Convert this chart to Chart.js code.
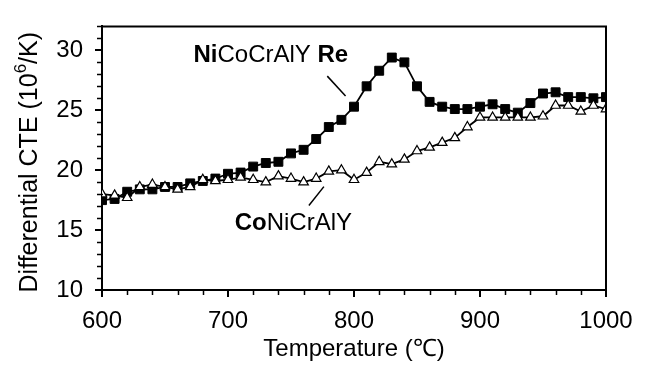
<!DOCTYPE html>
<html>
<head>
<meta charset="utf-8">
<script src="https://cdn.jsdelivr.net/npm/chart.js@4"></script>
<style>
  html, body { margin: 0; padding: 0; background: #fff; }
  #wrap { width: 646px; height: 365px; }
</style>
</head>
<body>
<div id="wrap"><canvas id="cteChart"></canvas></div>
<script>
// Differential CTE vs temperature — two bond coat alloys

const temperatures = [600, 610, 620, 630, 640, 650, 660, 670, 680, 690,
  700, 710, 720, 730, 740, 750, 760, 770, 780, 790,
  800, 810, 820, 830, 840, 850, 860, 870, 880, 890,
  900, 910, 920, 930, 940, 950, 960, 970, 980, 990, 1000];

const niCoCrAlYRe = [17.5, 17.6, 18.2, 18.4, 18.4, 18.6, 18.6, 18.9, 19.1, 19.3,
  19.7, 19.8, 20.3, 20.6, 20.7, 21.4, 21.7, 22.6, 23.6, 24.2,
  25.3, 27.0, 28.3, 29.4, 29.0, 27.0, 25.7, 25.3, 25.1, 25.1,
  25.3, 25.5, 25.1, 24.8, 25.6, 26.4, 26.5, 26.1, 26.1, 26.0, 26.1];

const coNiCrAlY = [18.0, 17.9, 17.7, 18.6, 18.8, 18.6, 18.4, 18.6, 19.2, 19.1,
  19.2, 19.4, 19.2, 19.0, 19.5, 19.3, 19.0, 19.3, 19.9, 20.0,
  19.2, 19.8, 20.7, 20.5, 20.9, 21.6, 21.9, 22.3, 22.7, 23.6,
  24.4, 24.4, 24.4, 24.4, 24.4, 24.5, 25.4, 25.4, 24.9, 25.4, 25.1];

const xTicks = [600, 700, 800, 900, 1000];
const yTicks = [10, 15, 20, 25, 30];

const FONT = '"Liberation Sans", Arial, Helvetica, sans-serif';
const FONT_SIZE = 24;

document.addEventListener('DOMContentLoaded', () => {
  initCteChart();
});

function toPoints(values) {
  return temperatures.map((t, i) => ({ x: t, y: values[i] }));
}

/**
 * Minor ticks + top/right frame
 */
const framePlugin = {
  id: 'frame',
  afterDraw(chart) {
    const { ctx, chartArea, scales } = chart;
    ctx.save();
    ctx.strokeStyle = '#000';
    ctx.lineWidth = 2;
    ctx.beginPath();
    ctx.moveTo(chartArea.left, chartArea.top);
    ctx.lineTo(chartArea.right, chartArea.top);
    ctx.lineTo(chartArea.right, chartArea.bottom);
    ctx.stroke();

    ctx.lineWidth = 1.5;
    ctx.beginPath();
    for (let v = 11; v <= 32; v++) {
      if (v % 5 === 0) continue;
      const y = Math.round(scales.y.getPixelForValue(v)) + 0.5;
      ctx.moveTo(chartArea.left - 5, y);
      ctx.lineTo(chartArea.left + 1, y);
    }
    for (let t = 620; t < 1000; t += 20) {
      if (t % 100 === 0) continue;
      const x = Math.round(scales.x.getPixelForValue(t)) + 0.5;
      ctx.moveTo(x, chartArea.bottom);
      ctx.lineTo(x, chartArea.bottom + 5);
    }
    ctx.stroke();

    // y axis title with a proper superscript
    const parts = [['Differential CTE (10', 25, 0], ['6', 17, -9], ['/K)', 25, 0]];
    ctx.translate(30, (chartArea.top + chartArea.bottom) / 2 + 4);
    ctx.rotate(-Math.PI / 2);
    ctx.fillStyle = '#000';
    ctx.textBaseline = 'middle';
    ctx.textAlign = 'left';
    let total = 0;
    parts.forEach(([txt, size]) => {
      ctx.font = size + 'px ' + FONT;
      total += ctx.measureText(txt).width;
    });
    let x = -total / 2;
    parts.forEach(([txt, size, dy]) => {
      ctx.font = size + 'px ' + FONT;
      ctx.fillText(txt, x, dy);
      x += ctx.measureText(txt).width;
    });
    ctx.restore();
  }
};

/**
 * Curve labels with partly bold text and leader lines
 */
const curveLabels = [
  { parts: [['Ni', true], ['CoCrAlY ', false], ['Re', true]], at: [672.6, 29.0], leader: [778.8, 27.85, 793.3, 26.2] },
  { parts: [['Co', true], ['NiCrAlY', false]], at: [705.3, 15.03], leader: [764.2, 17.05, 776.1, 18.63] }
];

const labelPlugin = {
  id: 'curveLabels',
  afterDatasetsDraw(chart) {
    const { ctx, scales } = chart;
    ctx.save();
    ctx.fillStyle = '#000';
    ctx.strokeStyle = '#000';
    ctx.lineWidth = 1.5;
    ctx.textBaseline = 'alphabetic';
    curveLabels.forEach(lbl => {
      let x = scales.x.getPixelForValue(lbl.at[0]);
      const y = scales.y.getPixelForValue(lbl.at[1]);
      lbl.parts.forEach(([txt, bold]) => {
        ctx.font = (bold ? 'bold ' : '') + FONT_SIZE + 'px ' + FONT;
        ctx.fillText(txt, x, y);
        x += ctx.measureText(txt).width;
      });
      const [t1, v1, t2, v2] = lbl.leader;
      ctx.beginPath();
      ctx.moveTo(scales.x.getPixelForValue(t1), scales.y.getPixelForValue(v1));
      ctx.lineTo(scales.x.getPixelForValue(t2), scales.y.getPixelForValue(v2));
      ctx.stroke();
    });
    ctx.restore();
  }
};

function initCteChart() {
  const ctx = document.getElementById('cteChart').getContext('2d');

  new Chart(ctx, {
    type: 'line',
    data: {
      datasets: [{
        label: 'CoNiCrAlY',
        data: toPoints(coNiCrAlY),
        borderColor: '#000',
        borderWidth: 1.8,
        pointStyle: 'triangle',
        pointRadius: 5.5,
        pointBackgroundColor: '#fff',
        pointBorderColor: '#000',
        pointBorderWidth: 1.2,
        tension: 0
      }, {
        label: 'NiCoCrAlY Re',
        data: toPoints(niCoCrAlYRe),
        borderColor: '#000',
        borderWidth: 1.8,
        pointStyle: 'rect',
        pointRadius: 6.3,
        pointBackgroundColor: '#000',
        pointBorderColor: '#000',
        pointBorderWidth: 1,
        tension: 0
      }]
    },
    options: {
      responsive: true,
      maintainAspectRatio: false,
      animation: false,
      layout: {
        padding: { top: 11, right: 40, left: 0, bottom: 0 }
      },
      plugins: {
        legend: { display: false },
        tooltip: { enabled: false }
      },
      scales: {
        x: {
          type: 'linear',
          min: 600,
          max: 1000,
          afterBuildTicks: scale => { scale.ticks = xTicks.map(v => ({ value: v })); },
          afterFit: scale => { scale.height = 75; },
          border: { display: true, color: '#000', width: 2 },
          grid: { display: true, drawOnChartArea: false, drawTicks: true, tickLength: 7, color: '#000', lineWidth: 2 },
          ticks: {
            color: '#000',
            padding: 10,
            maxRotation: 0,
            callback: value => String(value),
            font: { family: FONT, size: FONT_SIZE }
          },
          title: {
            display: true,
            text: 'Temperature (℃)',
            color: '#000',
            padding: { top: 0, bottom: 1 },
            font: { family: FONT, size: FONT_SIZE }
          }
        },
        y: {
          min: 10,
          max: 32,
          afterBuildTicks: scale => { scale.ticks = yTicks.map(v => ({ value: v })); },
          afterFit: scale => { scale.width = 102; },
          border: { display: true, color: '#000', width: 2 },
          grid: { display: true, drawOnChartArea: false, drawTicks: true, tickLength: 7, color: '#000', lineWidth: 2 },
          ticks: {
            color: '#000',
            padding: 12,
            callback: value => String(value),
            font: { family: FONT, size: FONT_SIZE }
          },
          title: { display: false }
        }
      }
    },
    plugins: [framePlugin, labelPlugin]
  });
}
</script>
</body>
</html>
